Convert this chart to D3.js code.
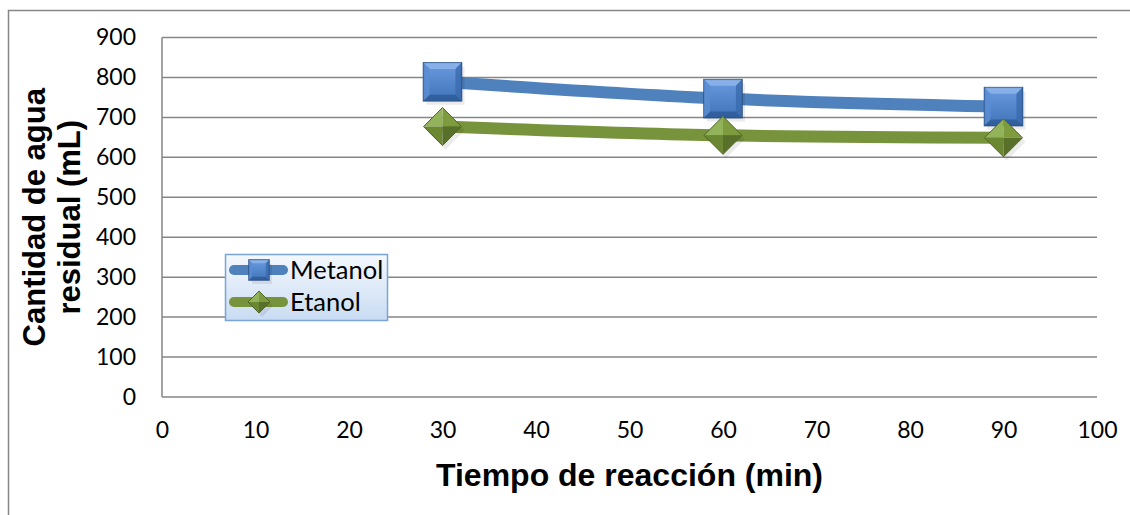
<!DOCTYPE html>
<html>
<head>
<meta charset="utf-8">
<script src="https://cdn.jsdelivr.net/npm/d3@7"></script>
<style>
  body { margin: 0; background: #fff; }
  svg { display: block; }
</style>
</head>
<body>
<div id="chart"></div>
<script>
// Data
const minutes = [30, 60, 90];
const metanol = [789, 747, 727];
const etanol = [677, 655, 649];
const seriesNames = ['Metanol', 'Etanol'];
const xTicks = [0, 10, 20, 30, 40, 50, 60, 70, 80, 90, 100];
const yTicks = [0, 100, 200, 300, 400, 500, 600, 700, 800, 900];

const W = 1130, H = 515;
const margin = { top: 37.5, left: 162, right: 33, bottom: 118 };
const innerW = W - margin.left - margin.right;
const innerH = H - margin.top - margin.bottom;

const svg = d3.select('#chart').append('svg')
  .attr('width', W)
  .attr('height', H);

const defs = svg.append('defs');

const blueGrad = defs.append('linearGradient').attr('id', 'blueGrad')
  .attr('x1', 0).attr('y1', 0).attr('x2', 0).attr('y2', 1);
blueGrad.append('stop').attr('offset', '0%').attr('stop-color', '#6b9be0');
blueGrad.append('stop').attr('offset', '100%').attr('stop-color', '#3f73b8');

const legendGrad = defs.append('linearGradient').attr('id', 'legendGrad')
  .attr('x1', 0).attr('y1', 0).attr('x2', 0).attr('y2', 1);
legendGrad.append('stop').attr('offset', '0%').attr('stop-color', '#f4f8fd');
legendGrad.append('stop').attr('offset', '100%').attr('stop-color', '#c9dcf3');

// outer frame
svg.append('rect')
  .attr('x', 8.5).attr('y', 10.5)
  .attr('width', W).attr('height', H + 20)
  .attr('fill', 'none')
  .attr('stroke', '#868686')
  .attr('stroke-width', 1.5);

const x = d3.scaleLinear().domain([0, 100]).range([0, innerW]);
const y = d3.scaleLinear().domain([0, 900]).range([innerH, 0]);

const chart = svg.append('g')
  .attr('transform', `translate(${margin.left}, ${margin.top})`);

// gridlines
chart.append('g')
  .selectAll('line')
  .data(yTicks)
  .join('line')
  .attr('x1', 0).attr('x2', innerW)
  .attr('y1', d => y(d)).attr('y2', d => y(d))
  .attr('stroke', '#868686')
  .attr('stroke-width', 1.5);

// left axis line
chart.append('line')
  .attr('x1', 0).attr('x2', 0)
  .attr('y1', 0).attr('y2', innerH)
  .attr('stroke', '#868686')
  .attr('stroke-width', 1.5);

// Y axis labels
const yAxis = chart.append('g')
  .call(d3.axisLeft(y).tickValues(yTicks).tickSize(0).tickPadding(26));
yAxis.select('.domain').remove();
yAxis.selectAll('text')
  .attr('fill', '#000')
  .style('font-family', 'Lato, "Open Sans", sans-serif')
  .style('font-size', '23px');

// X axis labels
const xAxis = chart.append('g')
  .attr('transform', `translate(0, ${innerH})`)
  .call(d3.axisBottom(x).tickValues(xTicks).tickSize(0).tickPadding(25));
xAxis.select('.domain').remove();
xAxis.selectAll('text')
  .attr('fill', '#000')
  .style('font-family', 'Lato, "Open Sans", sans-serif')
  .style('font-size', '23px');

// Axis titles
svg.append('text')
  .attr('x', margin.left + innerW / 2)
  .attr('y', 486)
  .attr('text-anchor', 'middle')
  .style('font-family', '"Liberation Sans", Arial, sans-serif')
  .style('font-weight', 'bold')
  .style('font-size', '32px')
  .text('Tiempo de reacción (min)');

const yTitle = svg.append('text')
  .attr('transform', `translate(0, ${margin.top + innerH / 2}) rotate(-90)`)
  .attr('text-anchor', 'middle')
  .style('font-family', '"Liberation Sans", Arial, sans-serif')
  .style('font-weight', 'bold')
  .style('font-size', '31px');
yTitle.append('tspan').attr('x', 0).attr('y', 45).text('Cantidad de agua');
yTitle.append('tspan').attr('x', 0).attr('y', 80).text('residual (mL)');

// Lines
const line = d3.line()
  .x(d => x(d[0]))
  .y(d => y(d[1]))
  .curve(d3.curveCatmullRom);

const series = [
  { name: seriesNames[0], values: minutes.map((m, i) => [m, metanol[i]]), color: '#4f81bd', marker: 'square' },
  { name: seriesNames[1], values: minutes.map((m, i) => [m, etanol[i]]), color: '#77933c', marker: 'diamond' }
];

chart.selectAll('.series-line')
  .data(series)
  .join('path')
  .attr('class', 'series-line')
  .attr('d', d => line(d.values))
  .attr('fill', 'none')
  .attr('stroke', d => d.color)
  .attr('stroke-width', 12);

// Marker drawing helpers
function drawSquare(g, s) {
  const h = s / 2, b = s * 0.16;
  g.append('rect')
    .attr('x', -h + 3).attr('y', -h + 4)
    .attr('width', s).attr('height', s)
    .attr('fill', '#000').attr('opacity', 0.08);
  g.append('rect')
    .attr('x', -h).attr('y', -h)
    .attr('width', s).attr('height', s)
    .attr('fill', 'url(#blueGrad)')
    .attr('stroke', '#2c5286').attr('stroke-width', 1.5);
  // bevel faces
  g.append('path')
    .attr('d', `M${-h},${-h}L${h},${-h}L${h - b},${-h + b}L${-h + b},${-h + b}Z`)
    .attr('fill', '#8fb6ea').attr('opacity', 0.8);
  g.append('path')
    .attr('d', `M${-h},${h}L${h},${h}L${h - b},${h - b}L${-h + b},${h - b}Z`)
    .attr('fill', '#2d5a96').attr('opacity', 0.8);
  g.append('path')
    .attr('d', `M${-h},${-h}L${-h + b},${-h + b}L${-h + b},${h - b}L${-h},${h}Z`)
    .attr('fill', '#5a8dd2').attr('opacity', 0.8);
  g.append('path')
    .attr('d', `M${h},${-h}L${h - b},${-h + b}L${h - b},${h - b}L${h},${h}Z`)
    .attr('fill', '#3a6aac').attr('opacity', 0.8);
}

function drawDiamond(g, s) {
  const h = s / 2;
  g.append('path')
    .attr('d', `M3,${-h + 4}L${h + 3},4L3,${h + 4}L${-h + 3},4Z`)
    .attr('fill', '#000').attr('opacity', 0.08);
  g.append('path').attr('d', `M0,${-h}L${h},0L0,0Z`).attr('fill', '#7e9c3e');
  g.append('path').attr('d', `M0,${-h}L${-h},0L0,0Z`).attr('fill', '#93b35a');
  g.append('path').attr('d', `M0,${h}L${-h},0L0,0Z`).attr('fill', '#6b8732');
  g.append('path').attr('d', `M0,${h}L${h},0L0,0Z`).attr('fill', '#58702a');
  g.append('path')
    .attr('d', `M0,${-h}L${h},0L0,${h}L${-h},0Z`)
    .attr('fill', 'none').attr('stroke', '#4f6626').attr('stroke-width', 1);
}

series.forEach(s => {
  chart.append('g').selectAll('g')
    .data(s.values)
    .join('g')
    .attr('transform', d => `translate(${x(d[0])}, ${y(d[1])})`)
    .each(function() {
      if (s.marker === 'square') drawSquare(d3.select(this), 38);
      else drawDiamond(d3.select(this), 38);
    });
});

// Legend
const legend = svg.append('g').attr('transform', 'translate(225, 254)');
legend.append('rect')
  .attr('x', 0.5).attr('y', 0.5)
  .attr('width', 162).attr('height', 66)
  .attr('fill', 'url(#legendGrad)')
  .attr('stroke', '#7aa3d8')
  .attr('stroke-width', 1.5);

const legendItems = legend.selectAll('.legend-item')
  .data(series)
  .join('g')
  .attr('class', 'legend-item')
  .attr('transform', (d, i) => `translate(0, ${16 + i * 32})`);

legendItems.append('line')
  .attr('x1', 9).attr('x2', 58)
  .attr('y1', 0).attr('y2', 0)
  .attr('stroke', d => d.color)
  .attr('stroke-width', 10)
  .attr('stroke-linecap', 'round');

legendItems.each(function(d) {
  const g = d3.select(this).append('g').attr('transform', 'translate(34, 0)');
  if (d.marker === 'square') drawSquare(g, 20);
  else drawDiamond(g, 22);
});

legendItems.append('text')
  .attr('x', 65)
  .attr('y', 9)
  .style('font-family', 'Lato, "Open Sans", sans-serif')
  .style('font-size', '25.5px')
  .text(d => d.name);
</script>
</body>
</html>
